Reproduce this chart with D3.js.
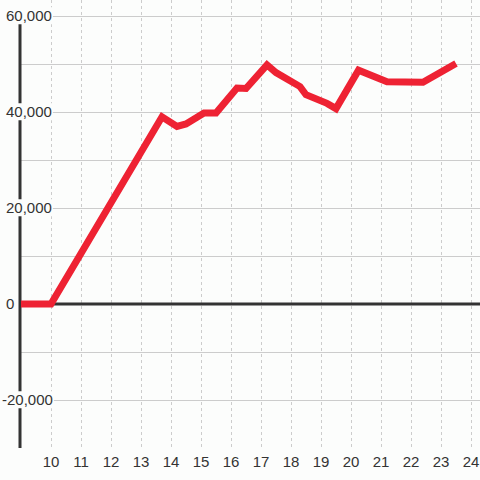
<!DOCTYPE html>
<html>
<head>
<meta charset="utf-8">
<script src="https://cdn.jsdelivr.net/npm/d3@7"></script>
<style>
  body { margin: 0; background: #fcfdfc; }
  svg { display: block; font-family: "Liberation Sans", Arial, sans-serif; }
</style>
</head>
<body>
<svg width="480" height="480"></svg>
<script>
// data
var xs = [9, 10, 13.7, 14.2, 14.5, 15.1, 15.5, 16.2, 16.5, 17.2, 17.5, 18.3, 18.5, 19.2, 19.5, 20.25, 21.2, 22.4, 23.5];
var ys = [0, 0, 39000, 37000, 37500, 39800, 39800, 45000, 44900, 49800, 48200, 45300, 43600, 41800, 40700, 48700, 46300, 46200, 50100];
var xTicks = [10, 11, 12, 13, 14, 15, 16, 17, 18, 19, 20, 21, 22, 23, 24];
var yTicks = [60000, 40000, 20000, 0, -20000];
var yGrid = [60000, 50000, 40000, 30000, 20000, 10000, -10000, -20000];

var svg = d3.select("svg"),
    width = +svg.attr("width"),
    height = +svg.attr("height");

var bg = "#fcfdfc";

var x = d3.scaleLinear().domain([9, 24.3]).range([21, 480]);
var y = d3.scaleLinear().domain([-30000, 60000]).range([448, 16]);

// horizontal grid
svg.append("g")
    .selectAll("line")
    .data(yGrid)
    .enter()
    .append("line")
    .attr("x1", 20).attr("x2", width)
    .attr("y1", function (d) { return y(d) + 0.5; })
    .attr("y2", function (d) { return y(d) + 0.5; })
    .attr("stroke", "#cccccc")
    .attr("stroke-width", 1);

// vertical dashed grid
svg.append("g")
    .selectAll("line")
    .data(xTicks)
    .enter()
    .append("line")
    .attr("x1", function (d) { return Math.round(x(d)) + 0.5; })
    .attr("x2", function (d) { return Math.round(x(d)) + 0.5; })
    .attr("y1", 0).attr("y2", 448)
    .attr("stroke", "#cccccc")
    .attr("stroke-dasharray", "3,3")
    .attr("stroke-width", 1);

// zero line
svg.append("line")
    .attr("x1", 20).attr("x2", width)
    .attr("y1", y(0)).attr("y2", y(0))
    .attr("stroke", "#333333")
    .attr("stroke-width", 3);

// y axis line
svg.append("line")
    .attr("x1", 20).attr("x2", 20)
    .attr("y1", 24).attr("y2", 448)
    .attr("stroke", "#333333")
    .attr("stroke-width", 3);

// the series
var line = d3.line()
    .x(function (d) { return x(d[0]); })
    .y(function (d) { return y(d[1]); });

svg.append("path")
    .datum(d3.zip(xs, ys))
    .attr("d", line)
    .attr("fill", "none")
    .attr("stroke", "#ee2233")
    .attr("stroke-width", 7)
    .attr("stroke-linejoin", "miter");

// y labels with a background box (plain hyphen for minus)
var fmt = d3.formatLocale({ decimal: ".", thousands: ",", grouping: [3], currency: ["", ""], minus: "-" }).format(",");
var yl = svg.append("g")
    .selectAll("g")
    .data(yTicks)
    .enter()
    .append("g")
    .attr("transform", function (d) { return "translate(" + (d < 0 ? 2 : 6) + "," + y(d) + ")"; });

yl.append("text")
    .attr("dy", "0.35em")
    .attr("font-size", 15)
    .attr("fill", "#333333")
    .text(function (d) { return fmt(d); });

yl.each(function () {
    var g = d3.select(this);
    var b = g.select("text").node().getBBox();
    g.insert("rect", "text")
        .attr("x", b.x - 1).attr("y", b.y)
        .attr("width", b.width + 2).attr("height", b.height)
        .attr("fill", bg);
});

// x labels
svg.append("g")
    .selectAll("text")
    .data(xTicks)
    .enter()
    .append("text")
    .attr("x", function (d) { return x(d); })
    .attr("y", 462)
    .attr("dy", "0.35em")
    .attr("text-anchor", "middle")
    .attr("font-size", 15)
    .attr("fill", "#333333")
    .text(function (d) { return d; });
</script>
</body>
</html>
